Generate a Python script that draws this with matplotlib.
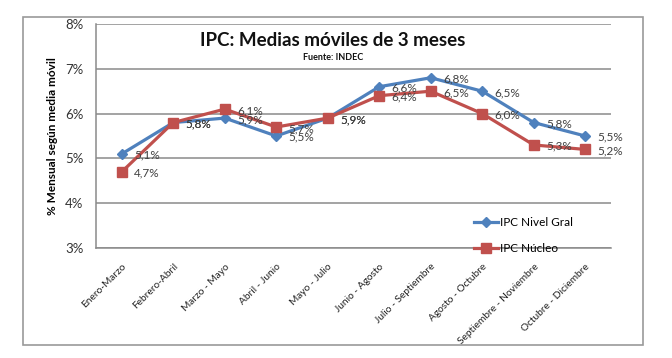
import matplotlib
matplotlib.use("Agg")
import matplotlib.pyplot as plt
from matplotlib.patches import Rectangle

plt.rcParams['font.family'] = ['Lato', 'DejaVu Sans']

# data
periodos = ['Enero-Marzo', 'Febrero-Abril', 'Marzo - Mayo', 'Abril - Junio', 'Mayo - Julio',
            'Junio - Agosto', 'Julio - Septiembre', 'Agosto - Octubre',
            'Septiembre - Noviembre', 'Octubre - Diciembre']
nivel_gral = [5.1, 5.8, 5.9, 5.5, 5.9, 6.6, 6.8, 6.5, 5.8, 5.5]
nucleo = [4.7, 5.8, 6.1, 5.7, 5.9, 6.4, 6.5, 6.0, 5.3, 5.2]
y_ticks = [3, 4, 5, 6, 7, 8]

azul = '#4F81BD'
rojo = '#C0504D'
gris = '#8A8A8A'

fig = plt.figure(figsize=(6.72, 3.58), dpi=100)

# outer chart frame
fig.patches.append(Rectangle((23 / 672, 1 - 345 / 358), 620 / 672, 328 / 358,
                             transform=fig.transFigure, fill=False,
                             edgecolor='#9a9a9a', linewidth=1.2))

ax = fig.add_axes([96 / 672, 1 - 248 / 358, 515 / 672, 224 / 358])

x = list(range(len(periodos)))
ax.plot(x, nivel_gral, color=azul, linewidth=2.3, marker='D', markersize=5.5,
        label='IPC Nivel Gral', zorder=3)
ax.plot(x, nucleo, color=rojo, linewidth=2.3, marker='s', markersize=7,
        label='IPC Núcleo', zorder=3)

# data labels, to the right of each point
for serie in (nivel_gral, nucleo):
    for xi, v in zip(x, serie):
        ax.annotate(f'{v:.1f}%'.replace('.', ','), (xi, v), xytext=(9, -1),
                    textcoords='offset points', ha='left', va='center',
                    fontsize=8.5, color='#404040', zorder=4)

ax.set_xlim(-0.5, len(periodos) - 0.5)
ax.set_ylim(3, 8)
ax.set_yticks(y_ticks)
ax.set_yticklabels([f'{t}%' for t in y_ticks], fontsize=9.5, color='#333333')
ax.set_xticks(x)
ax.set_xticklabels(periodos, rotation=45, ha='right', rotation_mode='anchor',
                   fontsize=7.3, color='#222222')
ax.tick_params(axis='both', length=0)
ax.tick_params(axis='y', pad=9)
ax.tick_params(axis='x', pad=10)

ax.grid(axis='y', color=gris, linewidth=1.1)
ax.set_axisbelow(True)
for side in ['top', 'right']:
    ax.spines[side].set_visible(False)
for side in ['left', 'bottom']:
    ax.spines[side].set_color(gris)
    ax.spines[side].set_linewidth(1.1)

ax.set_ylabel('% Mensual según media móvil', fontsize=8.5, fontweight='bold',
              labelpad=5)

# title and source inside the plot
fig.text(333 / 672, 1 - 40 / 358, 'IPC: Medias móviles de 3 meses', ha='center',
         va='center', fontsize=13.5, fontweight='bold', color='#111111')
fig.text(333 / 672, 1 - 57 / 358, 'Fuente: INDEC', ha='center', va='center',
         fontsize=6.5, fontweight='bold', color='#111111')

ax.legend(loc='upper left', bbox_to_anchor=(468 / 672, 1 - 211 / 358),
          bbox_transform=fig.transFigure, frameon=False, fontsize=8.5,
          handlelength=2.0, handletextpad=0.2, labelspacing=1.3, borderpad=0)

fig.savefig('out.png', dpi=100)
